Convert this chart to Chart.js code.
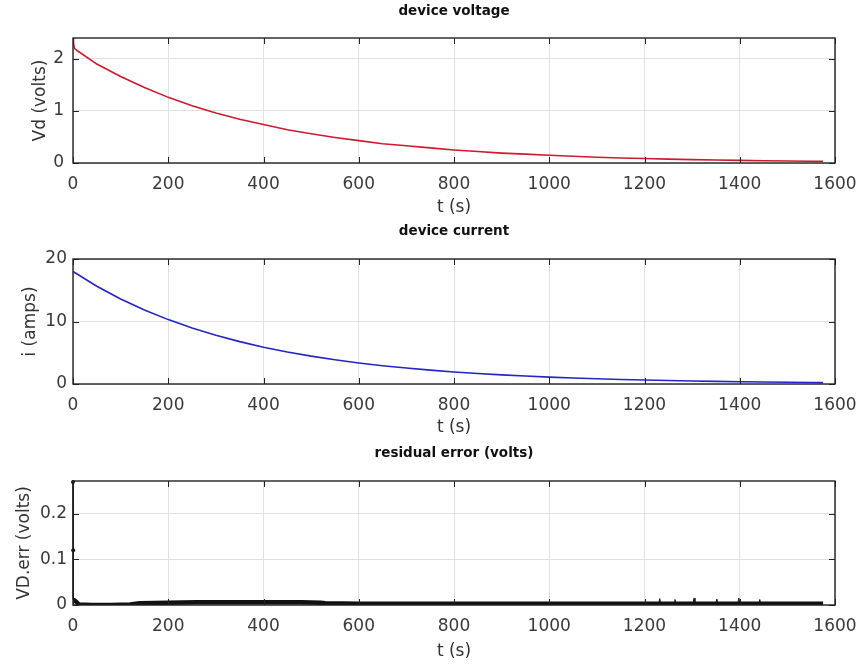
<!DOCTYPE html>
<html lang="en">
<head>
  <meta charset="UTF-8">
  <title>device voltage / current / residual</title>
  <script src="https://cdn.jsdelivr.net/npm/chart.js"></script>
  <style>
    body {
      margin: 0;
      background: #fff;
      font-family: 'DejaVu Sans', sans-serif;
    }
    .panel {
      position: absolute;
      left: 0;
      width: 861px;
    }
  </style>
</head>
<body>
  <div class="panel" style="top:0;height:220px"><canvas id="vdChart"></canvas></div>
  <div class="panel" style="top:220px;height:220px"><canvas id="iChart"></canvas></div>
  <div class="panel" style="top:440px;height:226px"><canvas id="errChart"></canvas></div>

  <script>
    // time axis ticks shared by all three plots
    const xTicks = [0, 200, 400, 600, 800, 1000, 1200, 1400, 1600];

    // device voltage (V) vs time (s)
    const timeV = [0, 1, 3, 10, 50, 100, 150, 200, 250, 300, 350, 400, 450, 500, 550, 600,
      650, 700, 750, 800, 850, 900, 950, 1000, 1050, 1100, 1150, 1200, 1250, 1300, 1350,
      1400, 1450, 1500, 1550, 1575];
    const voltage = [2.4, 2.3, 2.2, 2.15, 1.90, 1.66, 1.45, 1.26, 1.10, 0.96, 0.84, 0.74, 0.64,
      0.56, 0.49, 0.43, 0.37, 0.33, 0.29, 0.25, 0.22, 0.19, 0.17, 0.15, 0.13, 0.111, 0.097,
      0.085, 0.074, 0.065, 0.057, 0.050, 0.043, 0.038, 0.033, 0.031];
    const vTicks = [0, 1, 2];

    // device current (A) vs time (s)
    const timeI = [0, 50, 100, 150, 200, 250, 300, 350, 400, 450, 500, 550, 600, 650, 700,
      750, 800, 850, 900, 950, 1000, 1050, 1100, 1150, 1200, 1250, 1300, 1350, 1400, 1450,
      1500, 1550, 1575];
    const current = [18.0, 15.65, 13.61, 11.84, 10.30, 8.96, 7.79, 6.78, 5.89, 5.13, 4.46,
      3.88, 3.37, 2.93, 2.55, 2.22, 1.93, 1.68, 1.46, 1.27, 1.10, 0.96, 0.84, 0.73, 0.63,
      0.55, 0.48, 0.42, 0.36, 0.31, 0.27, 0.24, 0.22];
    const iTicks = [0, 10, 20];

    // residual error of the fit (V): the dense band ...
    const timeErr = [0, 3, 8, 12, 40, 80, 120, 140, 200, 260, 320, 400, 480, 520,
      530, 600, 700, 800, 900, 1000, 1100, 1200, 1300, 1400, 1500, 1560, 1575];
    const residual = [0.012, 0.01, 0.006, 0.001, 0.0, 0.0, 0.001, 0.004, 0.005,
      0.006, 0.006, 0.006, 0.006, 0.005, 0.004, 0.003, 0.003, 0.003, 0.003, 0.003, 0.003,
      0.003, 0.003, 0.003, 0.003, 0.003, 0.003];
    // ... and the isolated samples that stand out of it (null = break in the trace)
    const timeSpike = [0, 0.4, 0.8, 1, 1230, 1232, 1234, 1262, 1264, 1266, 1302, 1304, 1306,
      1350, 1352, 1354, 1396, 1398, 1400, 1440, 1442, 1444];
    const spike = [0.27, 0.12, 0.012, null, 0.004, 0.014, 0.004, 0.004, 0.012, 0.004, 0.004,
      0.015, 0.004, 0.004, 0.013, 0.004, 0.004, 0.015, 0.004, 0.004, 0.012, 0.004];
    const errTicks = [0, 0.1, 0.2];

    Chart.defaults.font.family = "'DejaVu Sans', sans-serif";
    Chart.defaults.color = '#333';

    // closed box plus short inward tick marks, drawn over the data
    const frame = {
      id: 'frame',
      afterDatasetsDraw(chart) {
        const { ctx, chartArea: a, scales } = chart;
        const len = 6;
        ctx.save();
        ctx.strokeStyle = '#222';
        ctx.lineWidth = 1;
        ctx.beginPath();
        scales.x.ticks.forEach(t => {
          const px = Math.round(scales.x.getPixelForValue(t.value)) + 0.5;
          ctx.moveTo(px, a.bottom); ctx.lineTo(px, a.bottom - len);
          ctx.moveTo(px, a.top); ctx.lineTo(px, a.top + len);
        });
        scales.y.ticks.forEach(t => {
          const py = Math.round(scales.y.getPixelForValue(t.value)) + 0.5;
          ctx.moveTo(a.left, py); ctx.lineTo(a.left + len, py);
          ctx.moveTo(a.right, py); ctx.lineTo(a.right - len, py);
        });
        ctx.stroke();
        ctx.lineWidth = 1.4;
        ctx.strokeRect(a.left, a.top, a.right - a.left, a.bottom - a.top);
        ctx.restore();
      }
    };

    const toPoints = (xs, ys) => xs.map((x, k) => ({ x: x, y: ys[k] }));

    function makePlot(id, cfg) {
      return new Chart(document.getElementById(id), {
        type: 'line',
        data: { datasets: cfg.datasets },
        options: {
          responsive: true,
          maintainAspectRatio: false,
          animation: false,
          events: [],
          layout: { padding: { right: 26 } },
          elements: { point: { radius: 0 }, line: { tension: 0 } },
          plugins: {
            legend: { display: false },
            tooltip: { enabled: false },
            title: {
              display: true,
              text: cfg.title,
              fullSize: false,
              color: '#111',
              font: { size: 13.5, weight: 'bold' },
              padding: { top: cfg.titleTop, bottom: cfg.top - cfg.titleTop - 16.2 }
            }
          },
          scales: {
            x: {
              type: 'linear',
              min: 0,
              max: 1600,
              afterBuildTicks: s => { s.ticks = xTicks.map(v => ({ value: v })); },
              afterFit: s => { s.height = cfg.xBox; s.paddingLeft = 0; s.paddingRight = 0; },
              grid: { color: '#e1e1e1', drawTicks: false },
              border: { display: false },
              ticks: { padding: 11, font: { size: 17 }, color: '#3a3a3a', callback: v => String(v) },
              title: {
                display: true,
                text: 't (s)',
                color: '#333',
                font: { size: 17 },
                padding: { top: 0, bottom: cfg.xTitleBottom }
              }
            },
            y: {
              type: 'linear',
              min: 0,
              max: cfg.ymax,
              afterBuildTicks: s => { s.ticks = cfg.yTicks.map(v => ({ value: v })); },
              afterFit: s => { s.width = 73; },
              grid: { color: '#e1e1e1', drawTicks: false },
              border: { display: false },
              ticks: { padding: cfg.yTickPad, font: { size: 17 }, color: '#3a3a3a', callback: v => String(v) },
              title: {
                display: true,
                text: cfg.yTitle,
                color: '#333',
                font: { size: 17 },
                padding: { top: cfg.yTitleX - 10.2, bottom: 0 }
              }
            }
          }
        },
        plugins: [frame]
      });
    }

    makePlot('vdChart', {
      datasets: [{ data: toPoints(timeV, voltage), borderColor: '#cc1a2e', borderWidth: 1.6 }],
      title: 'device voltage', yTitle: 'Vd (volts)', ymax: 2.4, yTicks: vTicks,
      top: 38, titleTop: 3, xBox: 57, xTitleBottom: 1.8, yTitleX: 41, yTickPad: 9
    });

    makePlot('iChart', {
      datasets: [{ data: toPoints(timeI, current), borderColor: '#2424c8', borderWidth: 1.6 }],
      title: 'device current', yTitle: 'i (amps)', ymax: 20, yTicks: iTicks,
      top: 39, titleTop: 3, xBox: 56, xTitleBottom: 1.8, yTitleX: 31, yTickPad: 6
    });

    makePlot('errChart', {
      datasets: [
        { data: toPoints(timeErr, residual), borderColor: '#111', borderWidth: 4.5 },
        {
          data: toPoints(timeSpike, spike), borderColor: '#111', borderWidth: 1,
          pointRadius: ctx => (ctx.dataIndex < 2 ? 2 : 0), pointBackgroundColor: '#111',
          pointBorderWidth: 0, clip: 3
        }
      ],
      title: 'residual error (volts)', yTitle: 'VD.err (volts)', ymax: 0.272, yTicks: errTicks,
      top: 41, titleTop: 5, xBox: 61, xTitleBottom: 3.8, yTitleX: 25, yTickPad: 6
    });
  </script>
</body>
</html>
